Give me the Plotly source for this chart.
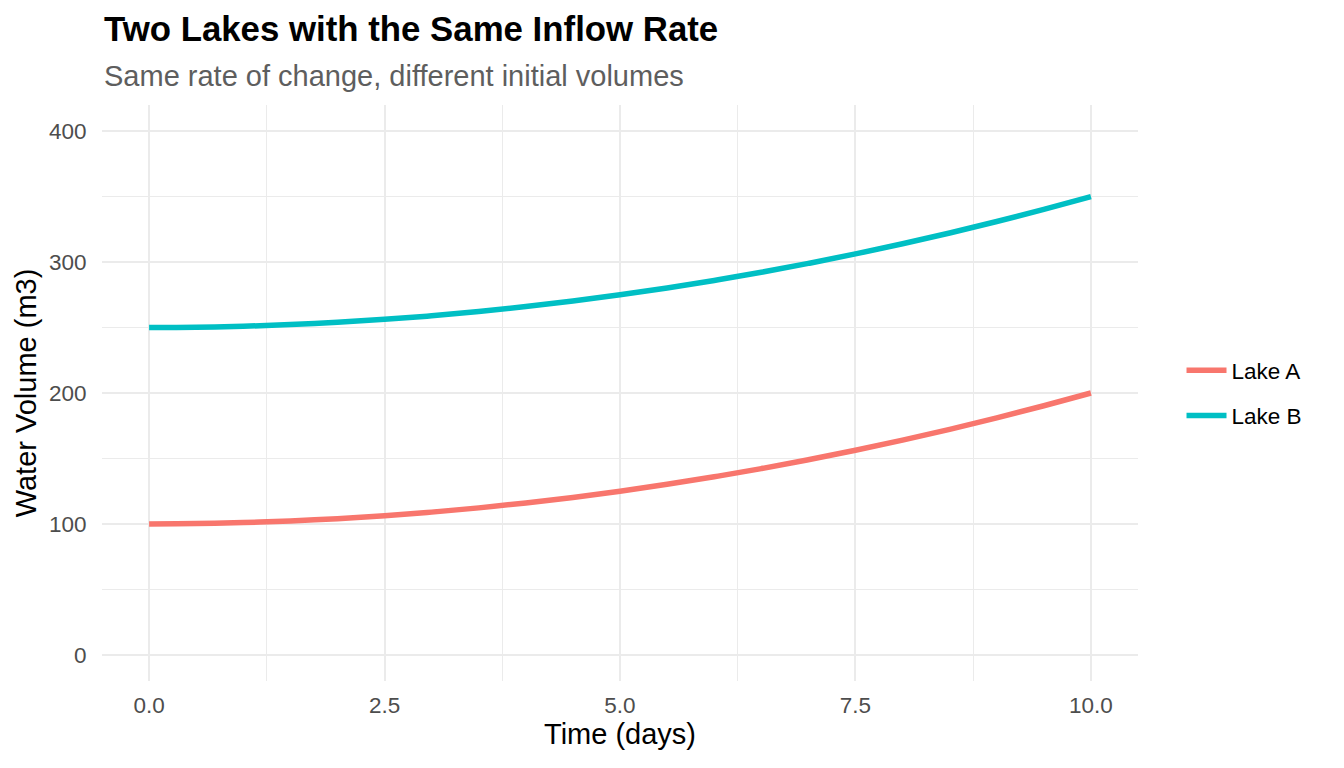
import plotly.graph_objects as go

# Data
time_days = [0, 0.5, 1, 1.5, 2, 2.5, 3, 3.5, 4, 4.5, 5, 5.5, 6, 6.5, 7, 7.5, 8, 8.5, 9, 9.5, 10]
lake_a = [100, 100.25, 101, 102.25, 104, 106.25, 109, 112.25, 116, 120.25, 125,
          130.25, 136, 142.25, 149, 156.25, 164, 172.25, 181, 190.25, 200]
lake_b = [250, 250.25, 251, 252.25, 254, 256.25, 259, 262.25, 266, 270.25, 275,
          280.25, 286, 292.25, 299, 306.25, 314, 322.25, 331, 340.25, 350]
series_names = ["Lake A", "Lake B"]
series_colors = ["#F8766D", "#00BFC4"]
x_ticks = [0, 2.5, 5, 7.5, 10]
x_tick_labels = ["0.0", "2.5", "5.0", "7.5", "10.0"]
y_ticks = [0, 100, 200, 300, 400]

FONT = "Liberation Sans, Arial, sans-serif"

fig = go.Figure()
for name, vals, col in zip(series_names, [lake_a, lake_b], series_colors):
    fig.add_trace(go.Scatter(
        x=time_days, y=vals, mode="lines", name=name, legendgroup=name,
        line=dict(color=col, width=5.5, shape="spline"),
    ))

grid_major = "#EBEBEB"
fig.update_layout(
    width=1344, height=768,
    paper_bgcolor="white", plot_bgcolor="white",
    margin=dict(l=94, r=214, t=97, b=95),
    font=dict(family=FONT, color="black"),
    showlegend=True,
    legend=dict(
        x=1.042, xanchor="left", y=0.5, yanchor="middle",
        font=dict(size=22.5, color="black", family=FONT),
        tracegroupgap=13, traceorder="grouped",
        itemwidth=40,
        bgcolor="rgba(0,0,0,0)",
    ),
    xaxis=dict(
        range=[-0.5, 10.5], tickvals=x_ticks, ticktext=x_tick_labels,
        showgrid=True, gridcolor=grid_major, gridwidth=2,
        minor=dict(dtick=1.25, tick0=0, showgrid=True, gridcolor=grid_major, gridwidth=1),
        zeroline=False, showline=False,
        ticks="outside", ticklen=4, tickcolor="rgba(0,0,0,0)",
        tickfont=dict(size=22.5, color="#4D4D4D", family=FONT),
        title=dict(text="Time (days)", font=dict(size=29, color="black", family=FONT), standoff=6),
    ),
    yaxis=dict(
        range=[-20, 420], tickvals=y_ticks,
        showgrid=True, gridcolor=grid_major, gridwidth=2,
        minor=dict(dtick=50, tick0=0, showgrid=True, gridcolor=grid_major, gridwidth=1),
        zeroline=False, showline=False,
        ticks="outside", ticklen=10, tickcolor="rgba(0,0,0,0)",
        tickfont=dict(size=22.5, color="#4D4D4D", family=FONT),
        title=dict(text="Water Volume (m3)", font=dict(size=29, color="black", family=FONT), standoff=3),
    ),
    annotations=[
        dict(text="<b>Two Lakes with the Same Inflow Rate</b>", xref="paper", yref="paper",
             x=0, y=1.132, xanchor="left", yanchor="middle", showarrow=False,
             font=dict(size=34.8, color="black", family=FONT)),
        dict(text="Same rate of change, different initial volumes", xref="paper", yref="paper",
             x=0, y=1.051, xanchor="left", yanchor="middle", showarrow=False,
             font=dict(size=29, color="#5E5E5E", family=FONT)),
    ],
)

fig.write_html("out.html")
